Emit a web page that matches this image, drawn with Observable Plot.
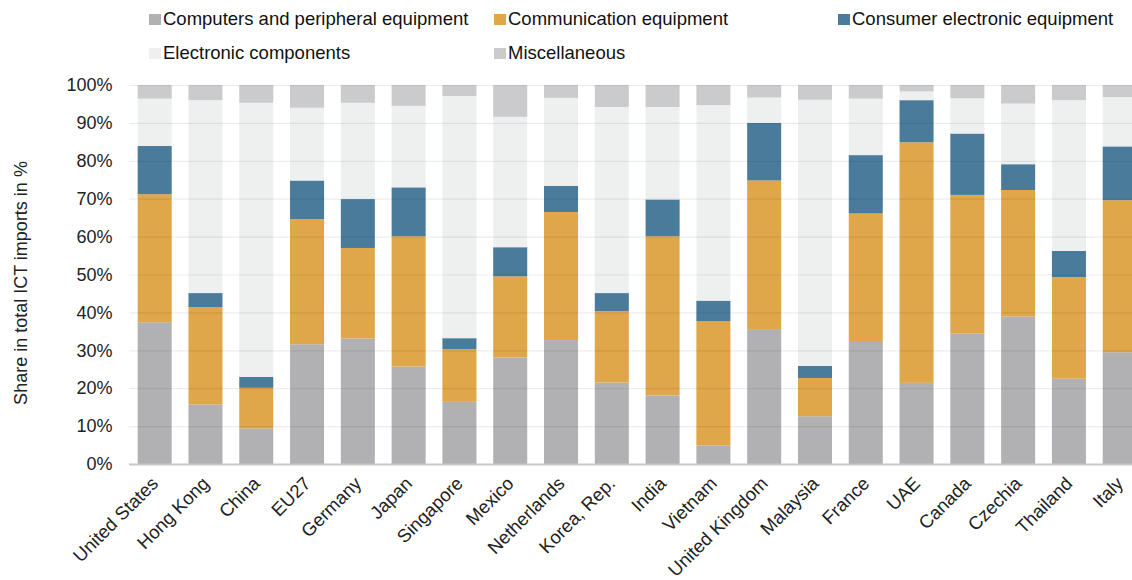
<!DOCTYPE html>
<html>
<head>
<meta charset="utf-8">
<script src="https://cdn.jsdelivr.net/npm/d3@7"></script>
<script src="https://cdn.jsdelivr.net/npm/@observablehq/plot@0.6"></script>
<style>
  html, body { margin: 0; padding: 0; background: #fff; overflow: hidden; }
  body { font-family: "Liberation Sans", Arial, sans-serif; width: 1132px; height: 580px; }
  #legend { position: relative; height: 70px; width: 1132px; font-size: 18.5px; color: #111; }
  .item { position: absolute; display: flex; align-items: center; white-space: nowrap; }
  .sw { width: 12px; height: 11px; margin-right: 2px; }
  #chart svg { max-width: none !important; display: block; }
</style>
</head>
<body>
<div id="legend"></div>
<div id="chart"></div>
<script>
const countries = ["United States", "Hong Kong", "China", "EU27", "Germany", "Japan", "Singapore", "Mexico", "Netherlands", "Korea, Rep.", "India", "Vietnam", "United Kingdom", "Malaysia", "France", "UAE", "Canada", "Czechia", "Thailand", "Italy"];
const categories = ["Computers and peripheral equipment", "Communication equipment", "Consumer electronic equipment", "Electronic components", "Miscellaneous"];
const colors = ["#b1b1b3", "#dfa64a", "#4a7b9b", "#eef0ef", "#cbcbcd"];

const computers     = [37.4, 15.7,  9.4, 31.6, 33.1, 25.7, 16.4, 28.1, 32.7, 21.5, 18.1,  4.9, 35.6, 12.6, 32.2, 21.4, 34.4, 38.9, 22.5, 29.5];
const communication = [33.8, 25.7, 10.7, 33.0, 23.9, 34.4, 13.9, 21.4, 33.8, 18.8, 42.0, 32.8, 39.2, 10.1, 33.9, 63.5, 36.6, 33.4, 26.8, 40.1];
const consumer      = [12.7,  3.7,  2.9, 10.2, 12.9, 12.9,  2.9,  7.7,  6.9,  4.8,  9.7,  5.4, 15.2,  3.2, 15.4, 11.1, 16.2,  6.8,  6.9, 14.2];
const components    = [12.5, 50.9, 72.3, 19.2, 25.4, 21.5, 63.9, 34.4, 23.2, 49.1, 24.4, 51.6,  6.7, 70.2, 14.9,  2.3,  9.3, 16.0, 39.8, 13.0];
const misc          = [ 3.6,  4.0,  4.7,  6.0,  4.7,  5.5,  2.9,  8.4,  3.4,  5.8,  5.8,  5.3,  3.3,  3.9,  3.6,  1.7,  3.5,  4.9,  4.0,  3.2];
const yTicks = [0, 10, 20, 30, 40, 50, 60, 70, 80, 90, 100];
const yTitle = "Share in total ICT imports in %";

const series = [computers, communication, consumer, components, misc];
const data = [];
countries.forEach((c, i) => {
  categories.forEach((cat, k) => data.push({country: c, category: cat, value: series[k][i]}));
});

// legend
const legend = document.getElementById("legend");
const legendPos = [[149, 19], [494, 19], [838, 19], [149, 53], [494, 53]];
categories.forEach((cat, k) => {
  const it = document.createElement("div");
  it.className = "item";
  it.style.left = legendPos[k][0] + "px";
  it.style.top = (legendPos[k][1] - 11) + "px";
  it.innerHTML = `<span class="sw" style="background:${colors[k]}"></span><span>${cat}</span>`;
  legend.appendChild(it);
});

const chart = Plot.plot({
  width: 1154,
  height: 510,
  marginTop: 15,
  marginBottom: 116,
  marginLeft: 129,
  marginRight: 0,
  style: {fontFamily: '"Liberation Sans", Arial, sans-serif', fontSize: "18px", color: "#222", background: "transparent", overflow: "visible", maxWidth: "none"},
  x: {domain: countries, padding: 0.33, round: false, range: [120.9, 1153.5], label: null},
  y: {domain: [0, 100], label: null},
  color: {domain: categories, range: colors},
  marks: [
    Plot.barY(data, {x: "country", y: "value", fill: "category"}),
    Plot.ruleY(yTicks.filter(d => d > 0), {stroke: "#000", strokeOpacity: 0.07, strokeWidth: 1.2}),
    Plot.ruleY([0], {stroke: "#c8c8c8", strokeWidth: 2}),
    Plot.axisY(yTicks, {tickSize: 0, tickPadding: 17, tickFormat: d => d + "%", label: null}),
    Plot.text([yTitle], {frameAnchor: "left", text: d => d, rotate: -90, dx: -108, dy: 8, textAnchor: "middle", lineAnchor: "middle", fill: "#222", fontSize: 18}),
    Plot.axisX({tickSize: 0, tickRotate: -45, tickPadding: 16, fontSize: 18.5, label: null})
  ]
});
document.getElementById("chart").appendChild(chart);
</script>
</body>
</html>
